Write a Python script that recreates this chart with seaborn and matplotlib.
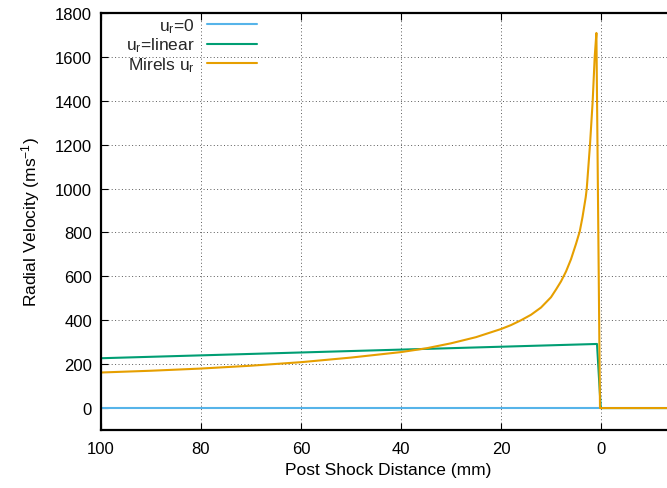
import numpy as np
import pandas as pd
import matplotlib
matplotlib.use("Agg")
import matplotlib.pyplot as plt
import seaborn as sns

# ---- data ----
x_zero = [100, 0, -15]
u_zero = [0, 0, 0]

x_linear = [100, 0.8, 0.05, -15]
u_linear = [227, 292, 0, 0]

x_mirels = [100, 90, 80, 70, 60, 50, 40, 35, 30, 25, 20, 18, 16, 14, 12, 10, 9, 8,
            7, 6, 5, 4.25, 3.7, 3.06, 2.85, 2.2, 1.66, 1.26, 0.92, 0.2, -15]
u_mirels = [162, 170, 180, 193, 209, 230, 255, 272, 295, 323, 360, 378, 400, 425, 458, 505, 540, 577,
            622, 678, 748, 805, 870, 960, 1000, 1200, 1400, 1600, 1709, 0, 0]

labels = ["u$_r$=0", "u$_r$=linear", "Mirels u$_r$"]
colors = ["#56b4e9", "#009e73", "#e69f00"]
x_ticks = [100, 80, 60, 40, 20, 0]
y_ticks = list(range(0, 1801, 200))

sns.set_theme(style="ticks")
plt.rcParams["font.family"] = ["Liberation Sans", "DejaVu Sans"]
plt.rcParams["mathtext.default"] = "regular"

fig = plt.figure(figsize=(6.67, 4.89), dpi=100)
ax = fig.add_axes([101 / 667, 58 / 489, 575 / 667, 417 / 489])

series = [(x_zero, u_zero), (x_linear, u_linear), (x_mirels, u_mirels)]
for (xs, ys), lab, col in zip(series, labels, colors):
    df = pd.DataFrame({"x": xs, "u": ys})
    sns.lineplot(data=df, x="x", y="u", ax=ax, color=col, label=lab,
                 linewidth=1.5, estimator=None, sort=False)

ax.set_xlim(100, -15)
ax.set_ylim(-100, 1800)
ax.set_xticks(x_ticks)
ax.set_yticks(y_ticks)
ax.set_xticklabels([str(v) for v in x_ticks])
ax.set_yticklabels([str(v) for v in y_ticks])

ax.grid(True, color="black", linestyle=(0, (1, 2.5)), linewidth=0.7, alpha=0.65)
ax.set_axisbelow(True)

for s in ax.spines.values():
    s.set_linewidth(1.6)
    s.set_color("black")

ax.tick_params(axis="both", direction="in", length=5, width=0.8, top=True, right=True,
               labelsize=12, colors="black")
ax.tick_params(axis="x", pad=8)
ax.tick_params(axis="y", pad=6.5)

ax.set_xlabel("Post Shock Distance (mm)", fontsize=12.5, labelpad=4, color="black")
ax.set_ylabel("Radial Velocity (ms$^{-1}$)", fontsize=12.5, labelpad=9, color="black")

leg = ax.legend(loc="center right", bbox_to_anchor=(257 / 667, 1 - 46 / 489),
                bbox_transform=fig.transFigure, frameon=False, markerfirst=False,
                fontsize=12.5, handlelength=2.9, handletextpad=0.7,
                labelspacing=0.05, borderpad=0, borderaxespad=0)

fig.savefig("out.png", dpi=100)
